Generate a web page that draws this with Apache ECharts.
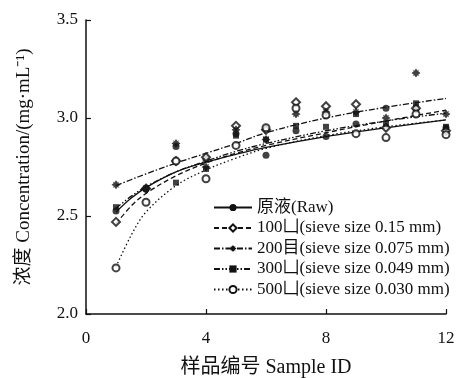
<!DOCTYPE html>
<html>
<head>
<meta charset="utf-8">
<title>浓度 vs 样品编号</title>
<script src="https://cdn.jsdelivr.net/npm/echarts@6/dist/echarts.min.js"></script>
<style>
  html, body { margin: 0; padding: 0; background: #fff; }
  #main { width: 457px; height: 378px; }
</style>
</head>
<body>
<div id="main"></div>
<script>
// measured points, sample 1..12
const sampleIds = [1, 2, 3, 4, 5, 6, 7, 8, 9, 10, 11, 12];
const rawVals  = [2.525, 2.64, 2.855, 2.79, 2.92, 2.81, 2.935, 2.905, 2.97, 3.05, 3.045, 2.95];
const s100Vals = [2.47, 2.64, 2.78, 2.80, 2.96, 2.94, 3.08, 3.06, 3.07, 2.95, 3.05, 2.935];
const s200Vals = [2.66, 2.64, 2.87, 2.75, 2.94, 2.89, 3.02, 3.03, 3.03, 3.00, 3.23, 3.02];
const s300Vals = [2.545, 2.64, 2.67, 2.74, 2.91, 2.89, 2.96, 2.955, 3.02, 2.97, 3.075, 2.955];
const s500Vals = [2.235, 2.57, 2.78, 2.69, 2.86, 2.95, 3.05, 3.015, 2.92, 2.90, 3.02, 2.915];

// trend curves
const fitX   = [1, 1.5, 2, 3, 4, 5, 6, 8, 10, 12];
const rawFit = [2.52, 2.59, 2.645, 2.725, 2.775, 2.815, 2.85, 2.905, 2.95, 2.99];
const fit100 = [2.46, 2.55, 2.615, 2.705, 2.77, 2.82, 2.86, 2.925, 2.985, 3.04];
const fit200 = [2.655, 2.685, 2.715, 2.77, 2.82, 2.87, 2.925, 3.0, 3.055, 3.10];
const fit300 = [2.54, 2.60, 2.65, 2.725, 2.78, 2.83, 2.87, 2.935, 2.985, 3.025];
const fit500 = [2.24, 2.40, 2.52, 2.655, 2.735, 2.795, 2.845, 2.91, 2.955, 2.99];

const names = [
  '原液(Raw)',
  '100凵(sieve size 0.15 mm)',
  '200目(sieve size 0.075 mm)',
  '300凵(sieve size 0.049 mm)',
  '500凵(sieve size 0.030 mm)'
];
const xTicks = [0, 4, 8, 12];
const yTicks = [2.0, 2.5, 3.0, 3.5];

const starPath = 'path://M0,-10 L3.6,-5 L7.5,-7.5 L5,-3.6 L10,0 L5,3.6 L7.5,7.5 L3.6,5 L0,10 L-3.6,5 L-7.5,7.5 L-5,3.6 L-10,0 L-5,-3.6 L-7.5,-7.5 L-3.6,-5 Z';

const groups = [
  { vals: rawVals,  fit: rawFit, symbol: 'circle',  hollow: false, dash: 'solid',                size: 7 },
  { vals: s100Vals, fit: fit100, symbol: 'diamond', hollow: true,  dash: [5, 3],                 size: 8 },
  { vals: s200Vals, fit: fit200, symbol: starPath,  hollow: false, dash: [6, 2, 1.5, 2],         size: 9 },
  { vals: s300Vals, fit: fit300, symbol: 'rect',    hollow: false, dash: [6, 2, 1.5, 2, 1.5, 2], size: 6 },
  { vals: s500Vals, fit: fit500, symbol: 'circle',  hollow: true,  dash: [1.5, 2.5],             size: 7 }
];

const pair = (xs, ys) => xs.map((x, i) => [x, ys[i]]);

const series = [];
groups.forEach((g, i) => {
  const style = g.hollow
    ? { color: '#fff', borderColor: '#111', borderWidth: 2 }
    : { color: '#111', borderColor: '#111', borderWidth: 0 };
  series.push({
    name: names[i],
    type: 'line',
    data: pair(fitX, g.fit),
    smooth: 0.35,
    showSymbol: false,
    symbol: g.symbol,
    symbolSize: g.size,
    lineStyle: { color: '#111', width: 1.3, type: g.dash },
    itemStyle: style,
    z: 2,
    silent: true
  });
  series.push({
    name: 'pts' + i,
    type: 'scatter',
    data: pair(sampleIds, g.vals),
    symbol: g.symbol,
    symbolSize: g.size,
    itemStyle: style,
    z: 3
  });
});

const chart = echarts.init(document.getElementById('main'));
chart.setOption({
  animation: false,
  textStyle: { fontFamily: 'Liberation Serif' },
  grid: { left: 86, right: 11, top: 20, bottom: 64, outerBoundsMode: 'none', containLabel: false },
  legend: {
    data: names,
    orient: 'vertical',
    left: 208,
    top: 194,
    itemWidth: 38,
    itemHeight: 9,
    itemGap: 3.5,
    textStyle: { fontSize: 17, color: '#111', fontFamily: 'Liberation Serif, Noto Sans CJK SC' }
  },
  xAxis: {
    type: 'value',
    min: xTicks[0],
    max: xTicks[xTicks.length - 1],
    interval: 4,
    name: '样品编号 Sample ID',
    nameLocation: 'middle',
    nameGap: 44,
    nameTextStyle: { fontSize: 20, color: '#111', fontFamily: 'Liberation Serif, Noto Sans CJK SC' },
    axisLine: { lineStyle: { color: '#111', width: 1.5 } },
    axisTick: { inside: true, length: 5, lineStyle: { color: '#111', width: 1.2 } },
    axisLabel: { fontSize: 17, color: '#111', margin: 16 },
    splitLine: { show: false }
  },
  yAxis: {
    type: 'value',
    min: yTicks[0],
    max: yTicks[yTicks.length - 1],
    interval: 0.5,
    name: '浓度 Concentration/(mg·mL⁻¹)',
    nameLocation: 'middle',
    nameGap: 52,
    nameTextStyle: { fontSize: 19, color: '#111', fontFamily: 'Liberation Serif, Noto Sans CJK SC' },
    axisLine: { show: true, lineStyle: { color: '#111', width: 1.5 } },
    axisTick: { show: true, inside: true, length: 5, lineStyle: { color: '#111', width: 1.2 } },
    axisLabel: { fontSize: 17, color: '#111', margin: 8, formatter: v => v.toFixed(1) },
    splitLine: { show: false }
  },
  series: series
});
</script>
</body>
</html>
